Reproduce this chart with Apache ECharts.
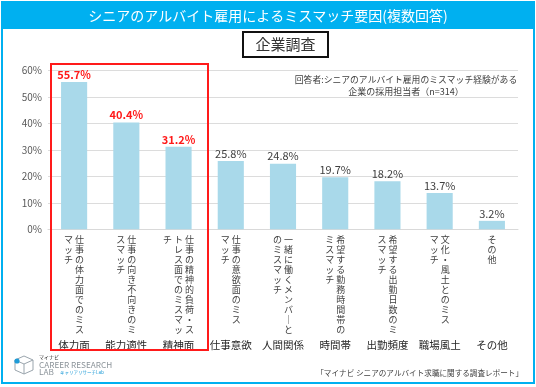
<!DOCTYPE html>
<html>
<head>
<meta charset="utf-8">
<script src="https://cdn.jsdelivr.net/npm/echarts@6/dist/echarts.min.js"></script>
<style>
html,body{margin:0;padding:0;background:#fff;}
#chart{width:536px;height:387px;}
</style>
</head>
<body>
<div id="chart"></div>
<script>
// ---- data ----
const categories = ['体力面', '能力適性', '精神面', '仕事意欲', '人間関係', '時間帯', '出勤頻度', '職場風土', 'その他'];
// vertical description text, split into columns (read right-to-left)
const descColumns = [
  ['仕事の体力面でのミス', 'マッチ'],
  ['仕事の向き不向きのミ', 'スマッチ'],
  ['仕事の精神的負荷・ス', 'トレス面でのミスマッ', 'チ'],
  ['仕事の意欲面のミス', 'マッチ'],
  ['一緒に働くメンバ｜と', 'のミスマッチ'],
  ['希望する勤務時間帯の', 'ミスマッチ'],
  ['希望する出勤日数のミ', 'スマッチ'],
  ['文化・風土とのミス', 'マッチ'],
  ['その他']
];
const values = [55.7, 40.4, 31.2, 25.8, 24.8, 19.7, 18.2, 13.7, 3.2];
const highlighted = [true, true, true, false, false, false, false, false, false];
const yMin = 0, yMax = 60, yStep = 10;
const titleText = 'シニアのアルバイト雇用によるミスマッチ要因(複数回答)';
const surveyText = '企業調査';
const noteLines = ['回答者:シニアのアルバイト雇用のミスマッチ経験がある', '企業の採用担当者（n=314）'];
const sourceText = '「マイナビ シニアのアルバイト求職に関する調査レポート」';

const FONT = '"Noto Sans CJK JP", "Noto Sans", sans-serif';
const CYAN = '#00b0f0';
const ROWS = 10;

function buildLabel(value, index) {
  const cols = descColumns[index].map(s => Array.from(s));
  const lines = [];
  for (let r = 0; r < ROWS; r++) {
    let line = '';
    for (let c = cols.length - 1; c >= 0; c--) {
      const ch = cols[c][r] || '　';
      line += '{c|' + ch + '}';
    }
    lines.push(line);
  }
  lines.push('{n|' + categories[index] + '}');
  return lines.join('\n');
}

const chart = echarts.init(document.getElementById('chart'), null, {renderer: 'canvas'});
chart.setOption({
  animation: false,
  backgroundColor: '#ffffff',
  textStyle: {fontFamily: FONT},
  grid: {left: 48, right: 18, top: 70.7, bottom: 157.7, containLabel: false},
  xAxis: {
    type: 'category',
    data: categories,
    axisLine: {lineStyle: {color: '#d9d9d9', width: 1}},
    axisTick: {show: false},
    axisLabel: {
      interval: 0,
      margin: 5,
      formatter: buildLabel,
      rich: {
        c: {fontSize: 9, width: 11, align: 'center', lineHeight: 10, color: '#404040', fontFamily: FONT},
        n: {fontSize: 10.5, align: 'center', lineHeight: 22, color: '#262626', fontFamily: FONT}
      }
    }
  },
  yAxis: {
    type: 'value',
    min: yMin, max: yMax, interval: yStep,
    axisLine: {show: false},
    axisTick: {show: false},
    splitLine: {lineStyle: {color: '#dcdcdc', width: 1}},
    axisLabel: {formatter: '{value}%', fontSize: 10, color: '#595959', margin: 6, fontFamily: FONT}
  },
  series: [{
    type: 'bar',
    barWidth: '50%',
    itemStyle: {color: '#a9d9ea'},
    label: {
      show: true, position: 'top', distance: 2, fontSize: 11, color: '#404040', fontFamily: FONT,
      formatter: p => p.value.toFixed(1) + '%'
    },
    data: values.map((v, i) => highlighted[i]
      ? {value: v, label: {color: '#ff1a1a', fontWeight: 'bold'}}
      : {value: v})
  }],
  graphic: [
    {type: 'rect', shape: {x: 2, y: 2, width: 532, height: 381}, style: {fill: 'none', stroke: CYAN, lineWidth: 2}, z: 10},
    {type: 'rect', shape: {x: 2, y: 2, width: 532, height: 27}, style: {fill: CYAN}, z: 10},
    {type: 'text', x: 268, y: 16, z: 11, style: {text: titleText, fill: '#ffffff', fontSize: 14, fontFamily: FONT, align: 'center', verticalAlign: 'middle'}},
    {type: 'rect', shape: {x: 243, y: 32, width: 85, height: 25}, style: {fill: '#fff', stroke: '#111', lineWidth: 2}, z: 10},
    {type: 'text', x: 285.5, y: 44.5, z: 11, style: {text: surveyText, fill: '#333', fontSize: 15, fontFamily: FONT, align: 'center', verticalAlign: 'middle'}},
    {type: 'text', x: 406, y: 80, z: 11, style: {text: noteLines[0], fill: '#404040', fontSize: 8.8, fontFamily: FONT, align: 'center', verticalAlign: 'middle'}},
    {type: 'text', x: 406, y: 92, z: 11, style: {text: noteLines[1], fill: '#404040', fontSize: 9, fontFamily: FONT, align: 'center', verticalAlign: 'middle'}},
    {type: 'rect', shape: {x: 51, y: 64, width: 157, height: 286}, style: {fill: 'none', stroke: '#ff1a1a', lineWidth: 2}, z: 12},
    {type: 'text', x: 523, y: 373, z: 11, style: {text: sourceText, fill: '#404040', fontSize: 7.6, fontFamily: FONT, align: 'right', verticalAlign: 'middle'}},
    // logo
    {type: 'polyline', z: 11, shape: {points: [[24, 356], [33, 360], [33, 370], [24, 374], [15, 370], [15, 360], [24, 356]]}, style: {fill: 'none', stroke: '#9aa5ad', lineWidth: 1}},
    {type: 'polyline', z: 11, shape: {points: [[15, 360], [24, 364], [33, 360]]}, style: {fill: 'none', stroke: '#9aa5ad', lineWidth: 1}},
    {type: 'line', z: 11, shape: {x1: 24, y1: 364, x2: 24, y2: 374}, style: {stroke: '#9aa5ad', lineWidth: 1}},
    {type: 'circle', z: 12, shape: {cx: 17, cy: 361, r: 2.6}, style: {fill: '#1e9bd7'}},
    {type: 'text', x: 39, y: 357, z: 11, style: {text: 'マイナビ', fill: '#333', fontSize: 5, fontFamily: FONT, verticalAlign: 'middle'}},
    {type: 'text', x: 39, y: 364.5, z: 11, style: {text: 'CAREER RESEARCH', fill: '#8c949a', fontSize: 8.2, fontFamily: FONT, verticalAlign: 'middle'}},
    {type: 'text', x: 39, y: 372, z: 11, style: {text: 'LAB', fill: '#8c949a', fontSize: 8.2, fontFamily: FONT, verticalAlign: 'middle'}},
    {type: 'text', x: 60, y: 372, z: 11, style: {text: 'キャリアリサーチLab', fill: '#1e9bd7', fontSize: 4.5, fontFamily: FONT, verticalAlign: 'middle'}}
  ]
});
</script>
</body>
</html>
